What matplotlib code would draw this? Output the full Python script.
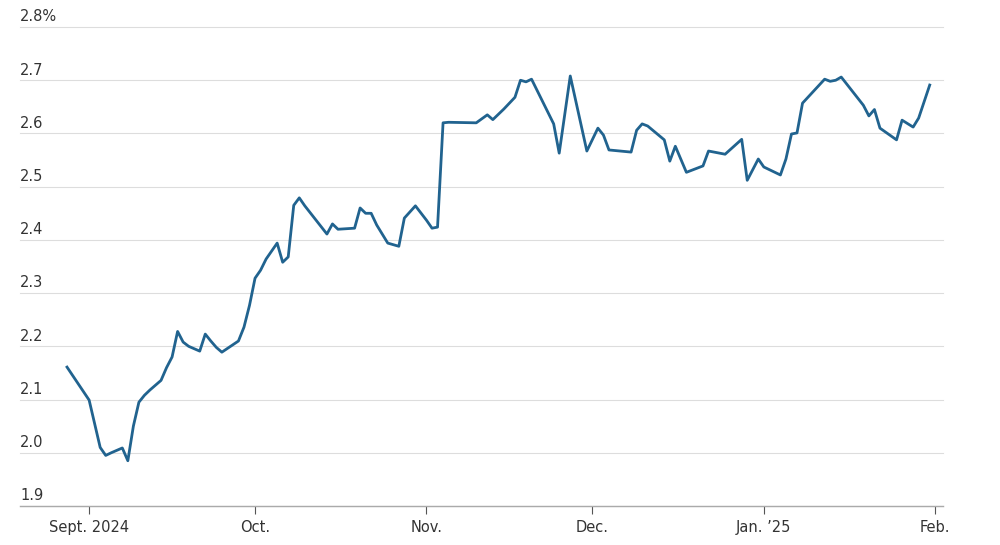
import pandas as pd
import matplotlib.pyplot as plt

# days after 1 Sept 2024, and the yield in percent
day_offsets = [-4, 0, 2, 3, 4, 6, 7, 8, 9, 10, 11, 13, 14, 15, 16, 17, 18, 20, 21, 22, 23, 24,
               27, 28, 29, 30, 31, 32, 33, 34, 35, 36, 37, 38, 39, 43, 44, 45, 48, 49, 50, 51,
               52, 54, 56, 57, 59, 61, 62, 63, 64, 65, 70, 72, 73, 75, 77, 78, 79, 80, 84, 85,
               87, 90, 92, 93, 94, 98, 99, 100, 101, 104, 105, 106, 108, 111, 112, 115, 118,
               119, 121, 122, 125, 126, 127, 128, 129, 133, 134, 135, 136, 140, 141, 142, 143,
               146, 147, 149, 150, 152]
values = [2.161, 2.099, 2.010, 1.995, 2.000, 2.009, 1.985, 2.050, 2.095, 2.108, 2.118, 2.136,
          2.160, 2.180, 2.228, 2.208, 2.200, 2.191, 2.223, 2.210, 2.198, 2.189, 2.210, 2.236,
          2.277, 2.328, 2.343, 2.364, 2.379, 2.394, 2.358, 2.368, 2.465, 2.479, 2.464, 2.411,
          2.430, 2.420, 2.422, 2.460, 2.450, 2.450, 2.428, 2.394, 2.388, 2.441, 2.464, 2.437,
          2.422, 2.424, 2.620, 2.621, 2.620, 2.635, 2.626, 2.646, 2.668, 2.700, 2.697, 2.702,
          2.618, 2.563, 2.708, 2.567, 2.610, 2.597, 2.569, 2.565, 2.606, 2.618, 2.614, 2.588,
          2.548, 2.576, 2.527, 2.539, 2.567, 2.561, 2.589, 2.512, 2.552, 2.537, 2.522, 2.552,
          2.599, 2.601, 2.657, 2.702, 2.698, 2.700, 2.706, 2.653, 2.633, 2.645, 2.610, 2.588,
          2.625, 2.612, 2.629, 2.691]

tick_dates = ["2024-09-01", "2024-10-01", "2024-11-01", "2024-12-01", "2025-01-01", "2025-02-01"]
tick_labels = ["Sept. 2024", "Oct.", "Nov.", "Dec.", "Jan. \u201925", "Feb."]
y_ticks = [1.9, 2.0, 2.1, 2.2, 2.3, 2.4, 2.5, 2.6, 2.7, 2.8]

start = pd.Timestamp("2024-09-01")
dates = [start + pd.Timedelta(days=d) for d in day_offsets]

fig = plt.figure(figsize=(10, 5.45), dpi=100)
ax = fig.add_axes([0.02, 0.0716, 0.923, 0.8788])

ax.plot(dates, values, color="#21638f", linewidth=2.0, solid_joinstyle="round", zorder=3)

ax.set_xlim(start - pd.Timedelta(days=12.5), start + pd.Timedelta(days=154.4))
ax.set_ylim(1.9, 2.8)

ax.set_yticks(y_ticks)
ax.set_yticklabels([])
for v in y_ticks:
    ax.axhline(v, color="#dddddd", linewidth=0.8, zorder=1, clip_on=False)
    lab = f"{v:.1f}%" if v == 2.8 else f"{v:.1f}"
    ax.text(0.0, v + 0.005, lab, transform=ax.get_yaxis_transform(), ha="left", va="bottom",
            fontsize=10.5, color="#333333")
ax.axhline(1.9, color="#aaaaaa", linewidth=1.0, zorder=2, clip_on=False)

ax.set_xticks(pd.to_datetime(tick_dates))
ax.set_xticklabels(tick_labels, fontsize=10.5, color="#333333")
ax.tick_params(axis="x", length=6, color="#555555", pad=4)
ax.tick_params(axis="y", length=0)
for s in ax.spines.values():
    s.set_visible(False)

fig.savefig("out.png", dpi=100)
